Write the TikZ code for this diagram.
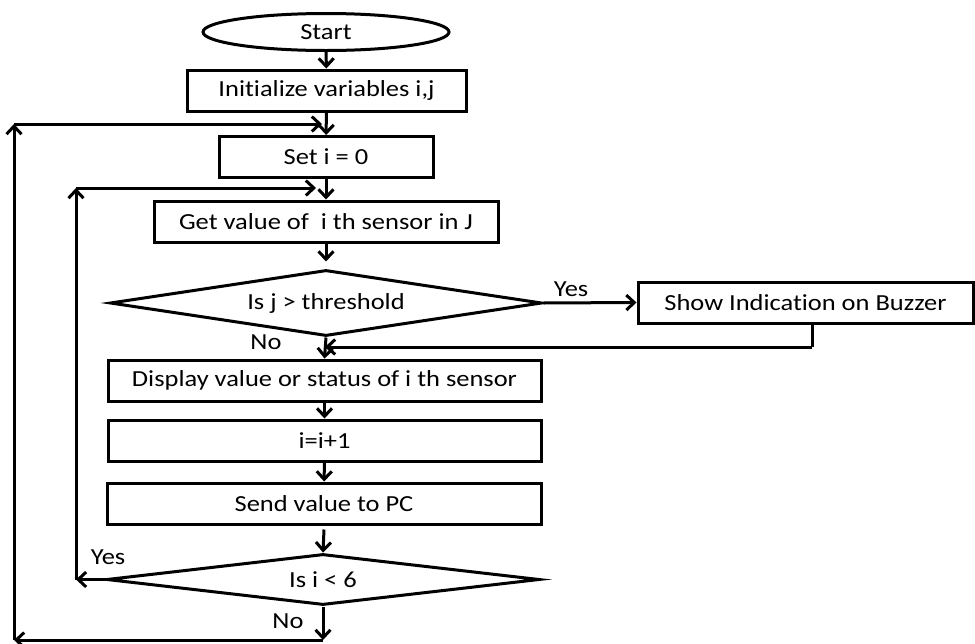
\documentclass[tikz,border=0pt]{standalone}
\usepackage{fontspec}
\setmainfont{Carlito}[FakeStretch=1.15, Ligatures=NoCommon]
\usetikzlibrary{shapes.geometric,arrows.meta}
\tikzset{
  box/.style={draw, line width=3pt, minimum height=41pt, inner sep=0pt},
  decide/.style={draw, diamond, line width=3pt, inner sep=0pt},
  arr/.style={line width=3pt, -{Straight Barb[length=8pt,width=15pt,line width=3pt]}},
  lbl/.style={inner sep=0pt}
}

\begin{document}
\begin{tikzpicture}[x=1pt, y=-1pt, font=\fontsize{23}{27}\selectfont]

    \useasboundingbox[fill=white] (0,0) rectangle (975,643);

    % flow nodes
    \node[draw, ellipse, line width=3pt, minimum width=246pt, minimum height=37pt, inner sep=0pt] (start) at (326,32) {Start};
    \node[box, minimum width=279pt] (init) at (326.5,90.5) {Initialize variables i,j};
    \node[box, minimum width=214pt] (seti) at (326,157) {Set i = 0};
    \node[box, minimum width=344pt] (getval) at (326,221.5) {Get value of \ i th sensor in J};
    \node[decide, aspect=6.5, minimum width=432pt, minimum height=66pt] (chkj) at (326,303) {Is j > threshold};
    \node[box, minimum width=335pt] (buzzer) at (805.5,302.5) {Show Indication on Buzzer};
    \node[box, minimum width=433pt] (disp) at (324.5,380.5) {Display value or status of i th sensor};
    \node[box, minimum width=433pt] (incr) at (324.5,440.5) {i=i+1};
    \node[box, minimum width=434pt] (send) at (324,503.5) {Send value to PC};
    \node[decide, aspect=8.5, minimum width=433pt, minimum height=51pt] (chki) at (323,579.5) {Is i < 6};

    % labels
    \node[lbl] (yes1) at (571,289) {Yes};
    \node[lbl] (no1) at (266,342) {No};
    \node[lbl] (yes2) at (108,557) {Yes};
    \node[lbl] (no2) at (288,621) {No};

    % joints
    \coordinate (m1) at (326,124);
    \coordinate (m2) at (326,188);
    \coordinate (m3) at (326,347);
    \coordinate (b1) at (812,347);
    \coordinate (l1) at (14,124);
    \coordinate (l2) at (14,640);
    \coordinate (r1) at (76,188);
    \coordinate (r2) at (76,579.5);
    \coordinate (e1) at (323,640);

    % straight flow
    \draw[arr] (start) -- (init);
    \draw[arr] (init) -- (seti);
    \draw[arr] (seti) -- (getval);
    \draw[arr] (getval.south) -- ++(0,18);
    \draw[arr] (chkj.east) -- (buzzer.west);
    \draw[arr] (chkj.south) -- (disp.north);
    \draw[line width=3pt] (buzzer.south -| b1) -- (b1);
    \draw[arr, shorten >=-1pt] (b1) -- (m3);
    \draw[arr] (disp) -- (incr);
    \draw[arr] (incr) -- (send);
    \draw[arr] (send.south) ++(0,4) -- (chki.north);

    % inner loop
    \draw[arr] (chki.west) -- (r2);
    \draw[arr] (r2) -- (r1);
    \draw[arr, shorten >=10pt] (r1) -- (m2);

    % outer loop
    \draw[arr] (chki.south) -- (e1);
    \draw[arr] (e1) -- (l2);
    \draw[arr] (l2) -- (l1);
    \draw[arr, shorten >=4pt] (l1) -- (m1);

  \end{tikzpicture}
\end{document}
